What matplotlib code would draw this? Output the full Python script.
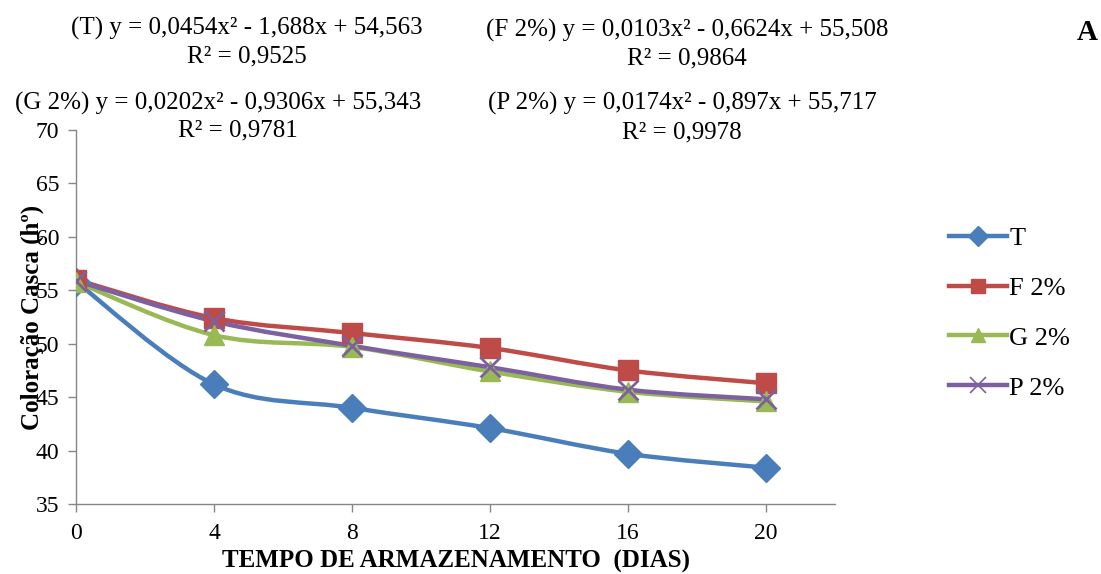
import matplotlib
matplotlib.use("Agg")
import matplotlib.pyplot as plt
import numpy as np
from matplotlib.path import Path
from matplotlib.patches import PathPatch
from matplotlib.lines import Line2D

plt.rcParams["font.family"] = ["Liberation Serif", "DejaVu Serif"]

# storage time (days) and peel hue angle per treatment
dias = [0, 4, 8, 12, 16, 20]
t_vals = [55.8, 46.2, 44.0, 42.1, 39.7, 38.4]
f_vals = [56.0, 52.4, 51.0, 49.6, 47.5, 46.3]
g_vals = [55.8, 50.8, 49.7, 47.4, 45.5, 44.6]
p_vals = [55.9, 52.1, 49.8, 47.8, 45.7, 44.8]

labels = ["T", "F 2%", "G 2%", "P 2%"]
colors = ["#4A7EBB", "#BE4B48", "#98B954", "#7D60A0"]
markers = ["D", "s", "^", "x"]

equations = [
    ("(T) y = 0,0454x² - 1,688x + 54,563", "R² = 0,9525"),
    ("(F 2%) y = 0,0103x² - 0,6624x + 55,508", "R² = 0,9864"),
    ("(G 2%) y = 0,0202x² - 0,9306x + 55,343", "R² = 0,9781"),
    ("(P 2%) y = 0,0174x² - 0,897x + 55,717", "R² = 0,9978"),
]


def smooth_path(x, y, k=1.0 / 6):
    """Excel-like smoothed line: cubic Bezier segments with Catmull-Rom handles."""
    pts = np.column_stack([x, y]).astype(float)
    n = len(pts)
    verts = [pts[0]]
    codes = [Path.MOVETO]
    for i in range(n - 1):
        p0 = pts[i - 1] if i > 0 else pts[i]
        p1, p2 = pts[i], pts[i + 1]
        p3 = pts[i + 2] if i + 2 < n else pts[i + 1]
        c1 = p1 + (p2 - p0) * k
        c2 = p2 - (p3 - p1) * k
        verts += [c1, c2, p2]
        codes += [Path.CURVE4] * 3
    return Path(verts, codes)


fig = plt.figure(figsize=(11.01, 5.74), dpi=100)
ax = fig.add_axes([76 / 1101, 1 - 504 / 574, (835 - 76) / 1101, (504 - 130) / 574])

series = [t_vals, f_vals, g_vals, p_vals]
handles = []
for vals, lab, col, mk in zip(series, labels, colors, markers):
    patch = PathPatch(smooth_path(dias, vals), fill=False, edgecolor=col,
                      lw=3.2, capstyle="round", joinstyle="round", zorder=2)
    ax.add_patch(patch)
    if mk == "x":
        ax.plot(dias, vals, linestyle="none", marker="x", ms=14, mew=2.0,
                color=col, zorder=3)
        h = Line2D([], [], color=col, lw=3.2, marker="x", ms=12, mew=1.2)
    else:
        ms = 14
        ax.plot(dias, vals, linestyle="none", marker=mk, ms=ms, color=col,
                mec=col, zorder=3)
        h = Line2D([], [], color=col, lw=3.2, marker=mk, ms=ms - 4, mec=col)
    handles.append(h)

ax.set_xlim(0, 22)
ax.set_ylim(35, 70)
ax.set_xticks(dias)
ax.set_yticks(range(35, 71, 5))
ax.tick_params(axis="both", labelsize=17, colors="#868686", length=6,
               width=1, labelcolor="black")
ax.tick_params(axis="x", pad=8)
ax.tick_params(axis="y", pad=6)
for side in ("top", "right"):
    ax.spines[side].set_visible(False)
for side in ("left", "bottom"):
    ax.spines[side].set_color("#868686")
    ax.spines[side].set_linewidth(1)

ax.set_xlabel("TEMPO DE ARMAZENAMENTO  (DIAS)", fontsize=18,
              fontweight="bold", labelpad=4)
ax.set_ylabel("Coloração Casca (hº)", fontsize=18, fontweight="bold",
              labelpad=-6)

leg = fig.legend(handles, labels, loc="center left",
                 bbox_to_anchor=(925 / 1101, 1 - 313 / 574), frameon=False,
                 fontsize=19, handlelength=2.2, labelspacing=1.0,
                 handletextpad=0.1)

# trend-line equations above the plot
eq_pos = [(247, 28, 247, 56), (687, 30, 687, 58),
          (218, 103, 238, 130), (682, 103, 682, 132)]
for (eq, r2), (xe, ye, xr, yr) in zip(equations, eq_pos):
    fig.text(xe / 1101, 1 - ye / 574, eq, ha="center", va="center", fontsize=18)
    fig.text(xr / 1101, 1 - yr / 574, r2, ha="center", va="center", fontsize=18)

fig.text(1087 / 1101, 1 - 32 / 574, "A", ha="center", va="center",
         fontsize=21, fontweight="bold")

fig.savefig("out.png", dpi=100)
